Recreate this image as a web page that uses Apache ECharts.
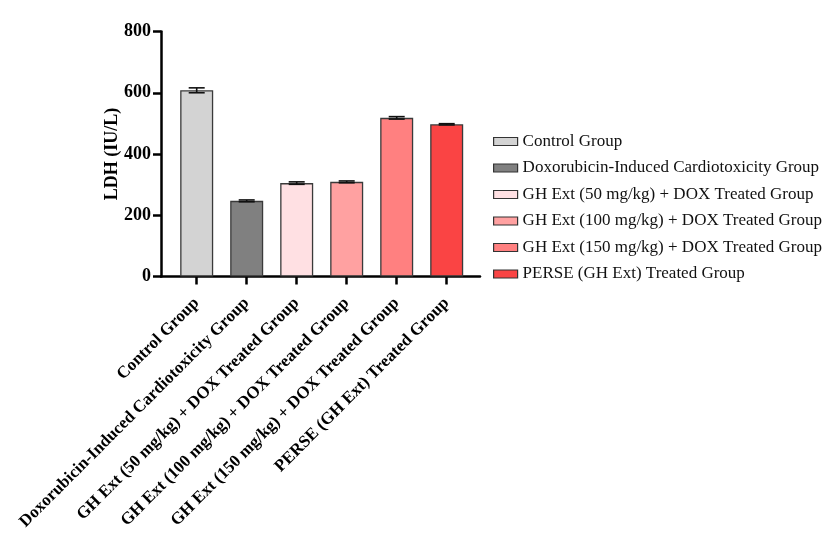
<!DOCTYPE html>
<html>
<head>
<meta charset="utf-8">
<script src="https://cdn.jsdelivr.net/npm/echarts@6/dist/echarts.min.js"></script>
<style>
  html, body { margin: 0; padding: 0; background: #fff; }
  #chart-div { width: 840px; height: 546px; }
</style>
</head>
<body>
<div id="chart-div"></div>
<script>

// groups, in the order they appear on the x axis
var groupNames = [
    'Control Group',
    'Doxorubicin-Induced Cardiotoxicity Group',
    'GH Ext (50 mg/kg) + DOX Treated Group',
    'GH Ext (100 mg/kg) + DOX Treated Group',
    'GH Ext (150 mg/kg) + DOX Treated Group',
    'PERSE (GH Ext) Treated Group'
];

// LDH mean values (IU/L) and error (SEM)
var ldhValues = [608, 247, 305, 309, 518, 497];
var ldhErrors = [8, 3, 4, 3, 4, 2];

var barColors = ['#d3d3d3', '#808080', '#ffe0e3', '#ffa1a1', '#ff8080', '#fa4444'];

var yTicks = [0, 200, 400, 600, 800];

var fontFamily = '"Liberation Serif", "Times New Roman", serif';


// one bar series per group so the legend gets one entry each
const makeBarSeries = function() {
    var out = [];
    for (var i = 0; i < groupNames.length; i++) {
        out.push({
            name: groupNames[i],
            type: 'bar',
            barWidth: 33,
            barGap: '-100%',
            data: [[i, ldhValues[i]]],
            itemStyle: {
                color: barColors[i],
                borderColor: '#3a3a3a',
                borderWidth: 1.3
            },
            z: 2
        });
    }
    return out;
}


// error bars drawn as a custom series (vertical line + caps)
const makeErrorSeries = function() {
    var errData = ldhValues.map(function(v, i) { return [i, v]; });
    return {
        type: 'custom',
        name: 'error',
        data: errData,
        z: 3,
        renderItem: function(params, api) {
            var i = params.dataIndex;
            var lo = api.coord([i, ldhValues[i] - ldhErrors[i]]);
            var hi = api.coord([i, ldhValues[i] + ldhErrors[i]]);
            var half = 8;
            var style = { stroke: '#111', lineWidth: 1.6 };
            return {
                type: 'group',
                children: [
                    { type: 'line', shape: { x1: lo[0], y1: lo[1], x2: hi[0], y2: hi[1] }, style: style },
                    { type: 'line', shape: { x1: hi[0] - half, y1: hi[1], x2: hi[0] + half, y2: hi[1] }, style: style },
                    { type: 'line', shape: { x1: lo[0] - half, y1: lo[1], x2: lo[0] + half, y2: lo[1] }, style: style }
                ]
            };
        }
    };
}


var tickPositions = groupNames.map(function(n, i) { return i; });

var opts = {
    backgroundColor: '#fff',
    animation: false,
    textStyle: { fontFamily: fontFamily },
    grid: {
        left: 161,
        top: 31.5,
        width: 319,
        height: 245,
        containLabel: false
    },
    legend: {
        orient: 'vertical',
        left: 488,
        top: 128,
        itemWidth: 24,
        itemHeight: 8,
        itemGap: 9.5,
        icon: 'rect',
        textStyle: { fontFamily: fontFamily, fontSize: 17, color: '#111' },
        itemStyle: { borderColor: '#333', borderWidth: 1.2 },
        data: groupNames
    },
    xAxis: {
        type: 'value',
        min: -0.714,
        max: 5.666,
        splitLine: { show: false },
        axisLine: { show: true, onZero: false, lineStyle: { color: '#000', width: 2.5 } },
        axisTick: {
            show: true,
            customValues: tickPositions,
            length: 8,
            lineStyle: { color: '#000', width: 2.5 }
        },
        axisLabel: {
            customValues: tickPositions,
            rotate: 45,
            margin: 24,
            fontFamily: fontFamily,
            fontWeight: 'bold',
            fontSize: 17,
            color: '#000',
            formatter: function(v) { return groupNames[Math.round(v)]; }
        }
    },
    yAxis: {
        type: 'value',
        min: 0,
        max: 800,
        interval: 200,
        name: 'LDH (IU/L)',
        nameLocation: 'middle',
        nameGap: 40,
        nameMoveOverlap: false,
        nameTextStyle: { fontFamily: fontFamily, fontWeight: 'bold', fontSize: 18, color: '#000' },
        splitLine: { show: false },
        axisLine: { show: true, onZero: false, lineStyle: { color: '#000', width: 2.5 } },
        axisTick: { show: true, length: 8, lineStyle: { color: '#000', width: 2.5 } },
        axisLabel: {
            fontFamily: fontFamily,
            fontWeight: 'bold',
            fontSize: 18,
            color: '#000',
            margin: 10,
            customValues: yTicks
        }
    },
    series: makeBarSeries().concat([makeErrorSeries()])
};

var myChartObj = echarts.init(document.getElementById('chart-div'));
myChartObj.setOption(opts);

</script>
</body>
</html>
